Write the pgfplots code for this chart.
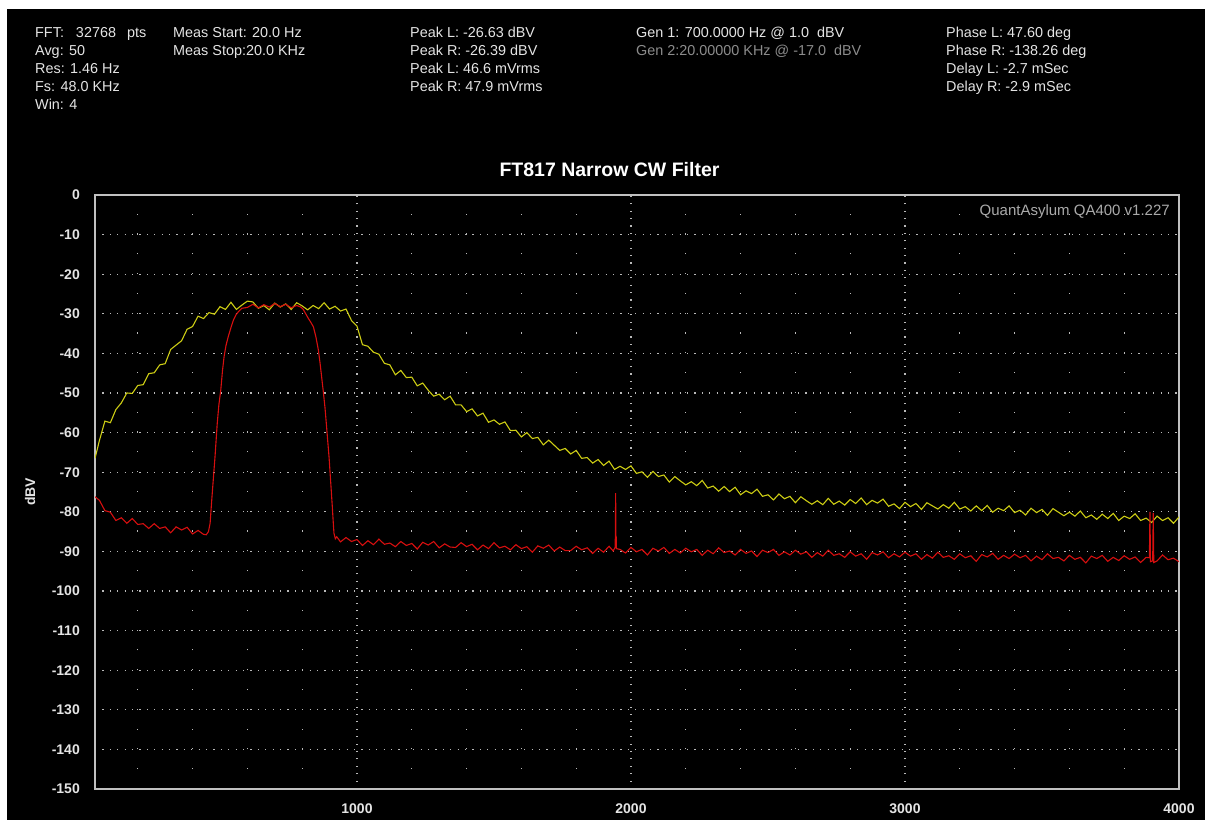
\documentclass[border=0pt]{standalone}
\usepackage{pgfplots}
\pgfplotsset{compat=1.18}
\usepackage{fontspec}
\setmainfont{Liberation Sans}

\definecolor{trL}{RGB}{205,205,20}
\definecolor{trR}{RGB}{215,15,15}
\definecolor{txt}{RGB}{228,228,228}
\definecolor{dim}{RGB}{140,140,140}
\definecolor{qa}{RGB}{170,170,170}
\definecolor{framec}{RGB}{192,192,192}
\definecolor{dots}{RGB}{185,185,185}

\newcommand{\topfont}{\fontsize{14.4}{18}\selectfont}

\begin{document}
\begin{tikzpicture}[x=1pt,y=1pt]
\useasboundingbox (0,0) rectangle (1205,820);
\fill[white] (0,0) rectangle (1205,820);
\fill[black] (7,0) rectangle (1205,811);

% header block
\begin{scope}[every node/.style={anchor=base west, inner sep=0pt, text=txt, font=\topfont}]
\node at (35,782) {FFT:\hspace{12pt}32768\hspace{11pt}pts};
\node at (35,764) {Avg: 50};
\node at (35,746) {Res: 1.46 Hz};
\node at (35,728) {Fs: 48.0 KHz};
\node at (35,710) {Win: 4};
\node at (173,782) {Meas Start: 20.0 Hz};
\node at (173,764) {Meas Stop:20.0 KHz};
\node at (410,782) {Peak L: -26.63 dBV};
\node at (410,764) {Peak R: -26.39 dBV};
\node at (410,746) {Peak L: 46.6 mVrms};
\node at (410,728) {Peak R: 47.9 mVrms};
\node at (636,782) {Gen 1: 700.0000 Hz @ 1.0\ \ dBV};
\node[text=dim] at (636,764) {Gen 2:20.00000 KHz @ -17.0\ \ dBV};
\node at (946,782) {Phase L: 47.60 deg};
\node at (946,764) {Phase R: -138.26 deg};
\node at (946,746) {Delay L: -2.7 mSec};
\node at (946,728) {Delay R: -2.9 mSec};
\end{scope}

\node[inner sep=0pt, text=white, font=\bfseries\fontsize{19.5}{22}\selectfont] at (609.5,650) {FT817 Narrow CW Filter};
\node[inner sep=0pt, rotate=90, text=txt, font=\bfseries\fontsize{14}{16}\selectfont] at (30,328) {dBV};

\begin{axis}[
    at={(95pt,31pt)}, anchor=south west,
    scale only axis, width=1084pt, height=594pt,
    xmin=43.9, xmax=4000, ymin=-150, ymax=0,
    xtick={1000,2000,3000,4000},
    minor xtick={200,400,600,800,1200,1400,1600,1800,2200,2400,2600,2800,3200,3400,3600,3800},
    ytick={-150,-140,...,0},
    scaled x ticks=false,
    /pgf/number format/set thousands separator={},
    /pgf/number format/assume math mode=true,
    major tick length=0pt, minor tick length=0pt,
    axis line style={draw=framec, line width=1.5pt},
    grid=both,
    major grid style={draw=dots, line width=1.1pt, dash pattern=on 1.1pt off 6.3pt},
    minor grid style={draw=dots, line width=1.1pt, dash pattern=on 1.1pt off 18.7pt},
    tick label style={text=txt, font=\bfseries\fontsize{14}{16}\selectfont, inner sep=0pt},
    xticklabel style={anchor=center, yshift=-20pt},
    yticklabel style={anchor=east, xshift=-15pt},
    clip=true,
]
% left channel (yellow)
\addplot[trL, line width=1.1pt] coordinates {
(44,-66.5)(60,-62.0)(80,-57.1)(100,-57.5)(120,-54.2)(140,-52.5)(160,-50.0)(180,-50.1)(200,-48.1)(220,-47.9)(240,-45.1)(260,-44.9)(280,-42.9)(300,-42.6)(320,-39.0)(340,-37.9)(360,-36.8)(380,-33.9)(400,-33.2)(420,-30.6)(440,-31.2)(460,-29.7)(480,-30.1)
(500,-28.2)(520,-28.9)(540,-27.1)(560,-28.9)(580,-27.8)(600,-26.8)(620,-27.0)(640,-28.6)(660,-27.9)(680,-29.0)(700,-27.3)(720,-28.3)(740,-27.5)(760,-28.9)(780,-27.2)(800,-28.0)(820,-29.0)(840,-27.9)(860,-28.7)(880,-27.2)(900,-28.8)(920,-28.1)(940,-29.3)
(960,-28.8)(980,-31.7)(1000,-33.1)(1020,-37.8)(1040,-38.2)(1060,-39.7)(1080,-40.2)(1100,-42.5)(1120,-42.9)(1140,-45.4)(1160,-44.3)(1180,-46.1)(1200,-46.0)(1220,-48.2)(1240,-47.5)(1260,-49.3)(1280,-50.8)(1300,-50.3)(1320,-51.7)(1340,-50.8)(1360,-53.0)(1380,-53.0)(1400,-54.7)
(1420,-54.0)(1440,-55.8)(1460,-55.1)(1480,-57.4)(1500,-56.8)(1520,-57.9)(1540,-57.3)(1560,-59.5)(1580,-59.4)(1600,-61.1)(1620,-60.0)(1640,-61.5)(1660,-61.2)(1680,-63.1)(1700,-61.9)(1720,-63.2)(1740,-64.5)(1760,-64.0)(1780,-65.4)(1800,-64.5)(1820,-66.5)(1840,-66.3)(1860,-67.7)
(1880,-66.8)(1900,-68.3)(1920,-67.2)(1940,-69.3)(1960,-68.5)(1980,-69.3)(2000,-68.4)(2020,-70.3)(2040,-69.9)(2060,-71.3)(2080,-69.8)(2100,-71.1)(2120,-70.7)(2140,-72.5)(2160,-71.1)(2180,-72.2)(2200,-73.2)(2220,-72.4)(2240,-73.4)(2260,-72.1)(2280,-74.0)(2300,-73.5)(2320,-74.8)
(2340,-73.6)(2360,-74.9)(2380,-73.8)(2400,-75.7)(2420,-74.7)(2440,-75.4)(2460,-74.3)(2480,-76.1)(2500,-75.7)(2520,-77.0)(2540,-75.5)(2560,-76.7)(2580,-76.1)(2600,-77.7)(2620,-76.2)(2640,-77.2)(2660,-78.1)(2680,-77.2)(2700,-78.2)(2720,-76.6)(2740,-78.1)(2760,-77.3)(2780,-78.3)
(2800,-76.9)(2820,-77.9)(2840,-76.5)(2860,-78.2)(2880,-77.1)(2900,-77.8)(2920,-76.8)(2940,-78.6)(2960,-78.0)(2980,-79.2)(3000,-77.6)(3020,-78.7)(3040,-77.9)(3060,-79.4)(3080,-77.7)(3100,-78.5)(3120,-79.3)(3140,-78.2)(3160,-79.1)(3180,-77.6)(3200,-79.3)(3220,-78.7)(3240,-79.8)
(3260,-78.5)(3280,-79.7)(3300,-78.4)(3320,-80.1)(3340,-79.1)(3360,-79.7)(3380,-78.5)(3400,-80.2)(3420,-79.6)(3440,-80.8)(3460,-79.1)(3480,-80.2)(3500,-79.4)(3520,-80.9)(3540,-79.2)(3560,-80.1)(3580,-81.0)(3600,-80.1)(3620,-81.1)(3640,-79.8)(3660,-81.5)(3680,-80.8)(3700,-81.9)
(3720,-80.6)(3740,-81.7)(3760,-80.4)(3780,-82.2)(3800,-81.1)(3820,-81.7)(3840,-80.5)(3860,-82.2)(3880,-81.6)(3900,-82.7)(3920,-81.1)(3940,-82.2)(3960,-81.5)(3980,-82.9)(4000,-81.3)
};
% right channel (red)
\addplot[trR, line width=1.1pt] coordinates {
(44,-76.2)(60,-77.1)(80,-79.7)(100,-80.1)(120,-82.2)(140,-81.5)(160,-82.9)(180,-81.7)(200,-83.2)(220,-83.0)(240,-84.2)(260,-83.0)(280,-84.2)(300,-83.8)(320,-85.3)(340,-83.8)(360,-84.6)(380,-83.9)(400,-85.6)(420,-84.7)(440,-85.7)(450,-85.8)(458,-85.0)
(464,-82.9)(470,-77.0)(476,-71.5)(482,-66.0)(490,-57.7)(496,-53.0)(503,-49.2)(509,-44.5)(515,-40.8)(522,-38.0)(530,-35.8)(540,-33.5)(549,-31.6)(558,-30.3)(567,-29.5)(580,-28.6)
(600,-28.4)(620,-27.6)(640,-28.5)(660,-27.7)(680,-28.3)(700,-27.4)(720,-28.2)(740,-27.6)(760,-28.5)(780,-27.9)(795,-28.3)(804,-28.9)(813,-30.0)(822,-31.1)(832,-32.2)(841,-33.3)(850,-35.8)(859,-39.1)(865,-42.3)(871,-45.9)(877,-49.6)(883,-53.5)(888,-57.6)(893,-61.9)(898,-66.1)(902,-70.3)(906,-74.5)(910,-78.7)(913,-82.2)(916,-85.4)(921,-86.8)(926,-86.3)
(940,-87.6)(960,-86.5)(980,-87.5)(1000,-87.0)(1020,-88.5)(1040,-87.3)(1060,-88.3)(1080,-86.9)(1100,-88.2)(1120,-87.9)(1140,-88.8)(1160,-87.5)(1180,-88.5)(1200,-88.0)(1220,-89.4)(1240,-87.7)(1260,-88.4)(1280,-87.5)(1300,-89.1)(1320,-88.1)(1340,-88.9)
(1360,-89.0)(1380,-87.8)(1400,-88.8)(1420,-88.2)(1440,-89.6)(1460,-88.4)(1480,-89.3)(1500,-87.8)(1520,-89.1)(1540,-88.7)(1560,-89.6)(1580,-88.3)(1600,-89.3)(1620,-88.8)(1640,-90.2)(1660,-88.6)(1680,-89.2)(1700,-88.4)(1720,-89.9)(1740,-88.9)(1760,-89.8)
(1780,-89.8)(1800,-88.7)(1820,-89.6)(1840,-89.1)(1860,-90.5)(1880,-89.2)(1900,-90.2)(1920,-88.7)(1935,-89.9)(1942,-89.0)(1943,-86.2)(1944,-75.3)(1945,-86.2)(1946,-86.2)(1947,-89.3)(1960,-89.5)(1980,-90.4)(2000,-89.0)(2020,-90.1)(2040,-89.5)(2060,-90.9)(2080,-89.2)(2100,-89.9)(2120,-89.0)(2140,-90.5)(2160,-89.5)(2180,-90.4)
(2200,-89.2)(2220,-90.1)(2240,-89.5)(2260,-91.0)(2280,-89.7)(2300,-90.6)(2320,-89.1)(2340,-90.3)(2360,-89.9)(2380,-90.9)(2400,-89.5)(2420,-90.5)(2440,-89.9)(2460,-91.3)(2480,-89.7)(2500,-90.3)(2520,-89.5)(2540,-91.0)(2560,-90.1)(2580,-90.9)
(2600,-89.7)(2620,-90.7)(2640,-90.1)(2660,-91.5)(2680,-90.3)(2700,-91.2)(2720,-89.7)(2740,-91.0)(2760,-90.6)(2780,-91.5)(2800,-90.1)(2820,-91.2)(2840,-90.6)(2860,-92.0)(2880,-90.3)(2900,-90.9)(2920,-90.1)(2940,-91.6)(2960,-90.6)(2980,-91.4)
(3000,-90.2)(3020,-91.2)(3040,-90.6)(3060,-92.0)(3080,-90.8)(3100,-91.7)(3120,-90.2)(3140,-91.5)(3160,-91.1)(3180,-92.0)(3200,-90.6)(3220,-91.6)(3240,-91.1)(3260,-92.5)(3280,-90.8)(3300,-91.4)(3320,-90.5)(3340,-92.0)(3360,-91.0)(3380,-91.8)
(3400,-90.7)(3420,-91.6)(3440,-91.0)(3460,-92.4)(3480,-91.2)(3500,-92.1)(3520,-90.6)(3540,-91.8)(3560,-91.5)(3580,-92.4)(3600,-91.0)(3620,-92.0)(3640,-91.5)(3660,-92.9)(3680,-91.2)(3700,-91.8)(3720,-91.0)(3740,-92.5)(3760,-91.5)(3780,-92.3)
(3800,-91.1)(3820,-92.0)(3840,-91.4)(3860,-92.8)(3880,-91.5)(3892,-91.6)(3894,-80.0)(3896,-92.6)(3904,-92.4)(3906,-80.3)(3908,-92.8)(3920,-92.4)(3940,-90.9)(3960,-92.1)(3980,-91.7)(4000,-92.6)
};
\node[anchor=east, inner sep=0pt, text=qa, font=\fontsize{15}{17}\selectfont] at (rel axis cs:0.9917,0.9714) {QuantAsylum QA400 v1.227};
\end{axis}
\end{tikzpicture}
\end{document}
